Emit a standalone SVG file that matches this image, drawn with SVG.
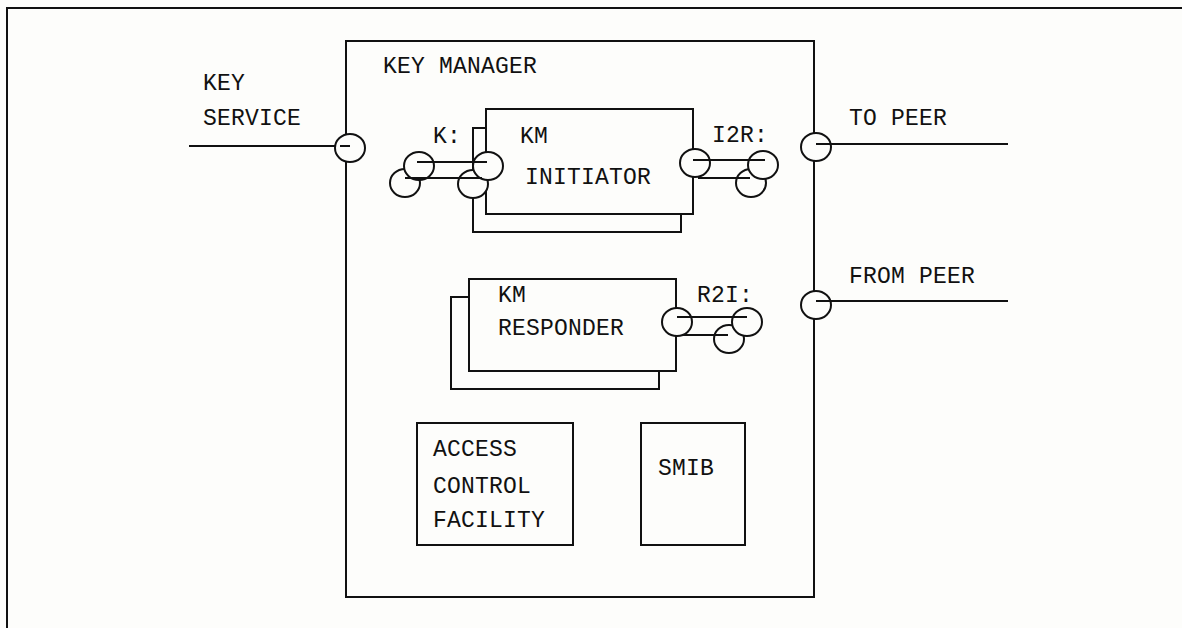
<svg xmlns="http://www.w3.org/2000/svg" width="1182" height="628" viewBox="0 0 1182 628">
<style>
.ln{stroke:#111;stroke-width:2;fill:none}
.bx{stroke:#111;stroke-width:2;fill:#fdfdfb}
.pt{stroke:#111;stroke-width:2;fill:#fdfdfb}
.t{font-family:"Liberation Mono","DejaVu Sans Mono",monospace;font-size:23px;letter-spacing:0.2px;fill:#111}
</style>
<rect x="0" y="0" width="1182" height="628" fill="#fdfdfb"/>
<g id="frame">
<path class="ln" d="M7,628 V8 H1182" stroke-width="2.5"/>
</g>
<g id="key-manager">
<rect class="bx" x="346" y="41" width="468" height="556"/>
<text class="t" x="383" y="73">KEY MANAGER</text>
</g>
<g id="km-initiator">
<rect class="bx" x="473" y="128" width="208" height="104"/>
<rect class="bx" x="486" y="109" width="207" height="105"/>
<text class="t" x="520" y="143">KM</text>
<text class="t" x="525" y="184">INITIATOR</text>
<text class="t" x="433" y="143">K:</text>
<text class="t" x="712" y="142">I2R:</text>
</g>
<g id="km-responder">
<rect class="bx" x="451" y="297" width="208" height="92"/>
<rect class="bx" x="469" y="279" width="207" height="92"/>
<text class="t" x="498" y="302">KM</text>
<text class="t" x="498" y="335">RESPONDER</text>
<text class="t" x="697" y="302">R2I:</text>
</g>
<g id="access-control">
<rect class="bx" x="417" y="423" width="156" height="122"/>
<text class="t" x="433" y="456">ACCESS</text>
<text class="t" x="433" y="493">CONTROL</text>
<text class="t" x="433" y="527">FACILITY</text>
</g>
<g id="smib">
<rect class="bx" x="641" y="423" width="104" height="122"/>
<text class="t" x="658" y="475">SMIB</text>
</g>
<g id="labels">
<text class="t" x="203" y="90">KEY</text>
<text class="t" x="203" y="125">SERVICE</text>
<text class="t" x="849" y="125">TO PEER</text>
<text class="t" x="849" y="283">FROM PEER</text>
</g>
<g id="connectors">
<line class="ln" x1="189" y1="146" x2="350" y2="146"/>
<line class="ln" x1="816" y1="144" x2="1008" y2="144"/>
<line class="ln" x1="816" y1="301" x2="1008" y2="301"/>
<ellipse class="pt" cx="350" cy="148" rx="15" ry="14"/>
<line class="ln" x1="340" y1="146" x2="350" y2="146"/>
<ellipse class="pt" cx="816" cy="147" rx="15" ry="14"/>
<line class="ln" x1="816" y1="144" x2="831" y2="144"/>
<ellipse class="pt" cx="816" cy="305" rx="15" ry="14"/>
<line class="ln" x1="816" y1="301" x2="831" y2="301"/>
<ellipse class="pt" cx="405" cy="183" rx="15" ry="14"/>
<ellipse class="pt" cx="419" cy="166" rx="15" ry="14"/>
<ellipse class="pt" cx="473" cy="184" rx="15" ry="14"/>
<ellipse class="pt" cx="488" cy="166" rx="15" ry="14"/>
<line class="ln" x1="417" y1="162" x2="487" y2="162"/>
<line class="ln" x1="405" y1="178" x2="482" y2="178"/>
<ellipse class="pt" cx="751" cy="183" rx="15" ry="14"/>
<ellipse class="pt" cx="763" cy="165" rx="15" ry="14"/>
<ellipse class="pt" cx="695" cy="163" rx="15" ry="14"/>
<line class="ln" x1="693" y1="160" x2="765" y2="160"/>
<line class="ln" x1="698" y1="178" x2="750" y2="178"/>
<ellipse class="pt" cx="729" cy="339" rx="15" ry="14"/>
<ellipse class="pt" cx="747" cy="322" rx="15" ry="14"/>
<ellipse class="pt" cx="677" cy="322" rx="15" ry="14"/>
<line class="ln" x1="677" y1="317" x2="747" y2="317"/>
<line class="ln" x1="682" y1="335" x2="728" y2="335"/>
</g>
</svg>
